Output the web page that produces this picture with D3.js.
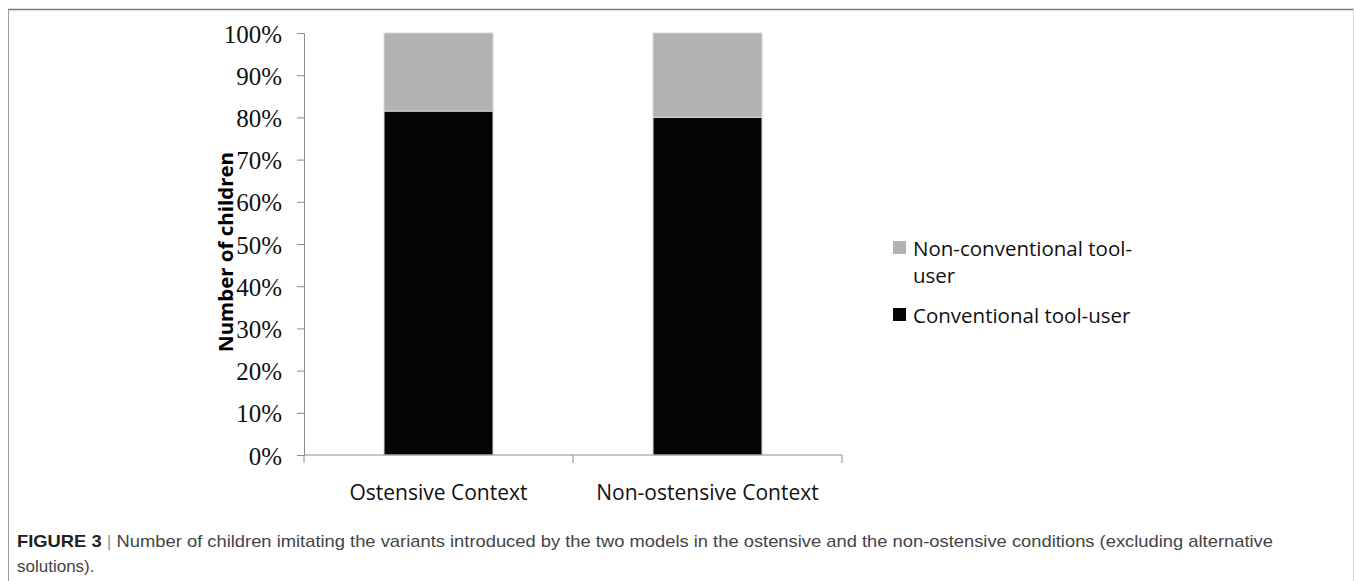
<!DOCTYPE html>
<html>
<head>
<meta charset="utf-8">
<script src="https://cdn.jsdelivr.net/npm/d3@7"></script>
<style>
body { margin: 0; background: #fff; }
svg { display: block; }
.tick-y text { font-family: "Liberation Serif", "Times New Roman", serif; font-size: 25px; fill: #111; }
.cat-label { font-family: "Open Sans", sans-serif; font-size: 21px; fill: #111; }
.legend-text { font-family: "Open Sans", sans-serif; font-size: 20.5px; fill: #111; }
.y-title { font-family: "Open Sans", sans-serif; font-size: 20px; font-weight: 700; fill: #000; }
.caption { font-family: "Liberation Sans", Arial, sans-serif; font-size: 17px; fill: #444; }
.caption .fig { font-weight: 700; fill: #222; }
</style>
</head>
<body>
<svg id="chart"></svg>
<script>
const categories = ['Ostensive Context', 'Non-ostensive Context'];
const conventional = [81.5, 80];
const nonConventional = [18.5, 20];
const seriesNames = ['Conventional tool-user', 'Non-conventional tool-user'];
const seriesColors = ['#050505', '#b2b2b2'];
const yTicks = [0, 10, 20, 30, 40, 50, 60, 70, 80, 90, 100];
const yTitle = 'Number of children';
const captionBold = 'FIGURE 3';
const captionLines = [
	'Number of children imitating the variants introduced by the two models in the ostensive and the non-ostensive conditions (excluding alternative',
	'solutions).'
];

const width = 1354, height = 581;
const plot = {left: 304, right: 842, top: 33, bottom: 455};

const svg = d3.select('#chart')
.attr('width', width)
.attr('height', height)

// figure frame
svg.append('line').attr('x1', 8).attr('x2', width).attr('y1', 9.5).attr('y2', 9.5)
.attr('stroke', '#7a7a7a').attr('stroke-width', 1.5)
svg.append('line').attr('x1', 8.5).attr('x2', 8.5).attr('y1', 9).attr('y2', height)
.attr('stroke', '#9a9a9a').attr('stroke-width', 1)
svg.append('line').attr('x1', 1353.5).attr('x2', 1353.5).attr('y1', 9).attr('y2', height)
.attr('stroke', '#d8d8d8').attr('stroke-width', 1)

const table = categories.map((c, i) => ({
	cat: c,
	conv: conventional[i],
	nonconv: nonConventional[i]
}))

const stack = d3.stack().keys(['conv', 'nonconv'])(table)

const x = d3.scaleBand()
.domain(categories)
.range([plot.left, plot.right])
.paddingInner(0.595)
.paddingOuter(0.2975)

const y = d3.scaleLinear()
.domain([0, 100])
.range([plot.bottom, plot.top])

// bars
svg.append('g')
.selectAll('g')
.data(stack)
.enter()
.append('g')
.attr('fill', (d, i) => seriesColors[i])
.selectAll('rect')
.data(d => d)
.enter()
.append('rect')
.attr('x', d => x(d.data.cat))
.attr('y', d => y(d[1]))
.attr('width', x.bandwidth())
.attr('height', d => y(d[0]) - y(d[1]))
.attr('stroke', '#d4d4d4')
.attr('stroke-width', 1)

// y axis
const yAxis = svg.append('g')
.attr('class', 'tick-y')
.attr('transform', `translate(${plot.left},0)`)
.call(
	d3.axisLeft(y)
	.tickValues(yTicks)
	.tickSize(7)
	.tickSizeOuter(0)
	.tickPadding(15)
	.tickFormat(d => d + '%')
)

yAxis.select('.domain').attr('stroke', '#8c8c8c')
yAxis.selectAll('.tick line').attr('stroke', '#8c8c8c')
yAxis.selectAll('.tick text').attr('dy', '0.36em')

// x axis: line with ticks at band boundaries, labels at band centres
const xAxis = svg.append('g')
.attr('transform', `translate(0,${plot.bottom})`)

xAxis.append('line')
.attr('x1', plot.left).attr('x2', plot.right)
.attr('stroke', '#8c8c8c')

const boundaries = categories.map(c => x(c) - x.step() * x.paddingOuter()).concat([plot.right])

xAxis.selectAll('.xb')
.data(boundaries)
.enter()
.append('line')
.attr('x1', d => d).attr('x2', d => d)
.attr('y1', 0).attr('y2', 8)
.attr('stroke', '#8c8c8c')

xAxis.selectAll('.cat-label')
.data(categories)
.enter()
.append('text')
.attr('class', 'cat-label')
.attr('x', d => x(d) + x.bandwidth() / 2)
.attr('y', 45)
.attr('text-anchor', 'middle')
.text(d => d)

// y title
svg.append('text')
.attr('class', 'y-title')
.attr('transform', `translate(233,${(plot.top + plot.bottom) / 2 + 8}) rotate(-90)`)
.attr('text-anchor', 'middle')
.attr('textLength', 200)
.attr('lengthAdjust', 'spacingAndGlyphs')
.text(yTitle)

// legend, top entry is the top stack segment
const legend = svg.append('g')
.attr('transform', 'translate(893,0)')

const legendItems = [
	{name: seriesNames[1], color: seriesColors[1], y: 256},
	{name: seriesNames[0], color: seriesColors[0], y: 323}
]

legendItems.map(item => {
	legend.append('rect')
	.attr('x', 0)
	.attr('y', item.y - 15)
	.attr('width', 13)
	.attr('height', 13)
	.attr('fill', item.color)

	let t = legend.append('text')
	.attr('class', 'legend-text')
	.attr('x', 20)
	.attr('y', item.y)

	// wrap the long label after "tool-"
	let parts = item.name.length > 24 ? item.name.split(/(?<=tool-)/) : [item.name];
	parts.map((p, i) => {
		t.append('tspan')
		.attr('x', 20)
		.attr('dy', i === 0 ? 0 : 27)
		.text(p)
	})
})

// caption
const cap = svg.append('text')
.attr('class', 'caption')
.attr('x', 17)
.attr('y', 547)
.attr('textLength', 1256)
.attr('lengthAdjust', 'spacingAndGlyphs')

cap.append('tspan').attr('class', 'fig').text(captionBold)
cap.append('tspan').attr('fill', '#999').text('  |  ')
cap.append('tspan').text(captionLines[0])

svg.append('text')
.attr('class', 'caption')
.attr('x', 17)
.attr('y', 572)
.text(captionLines[1])
</script>
</body>
</html>
